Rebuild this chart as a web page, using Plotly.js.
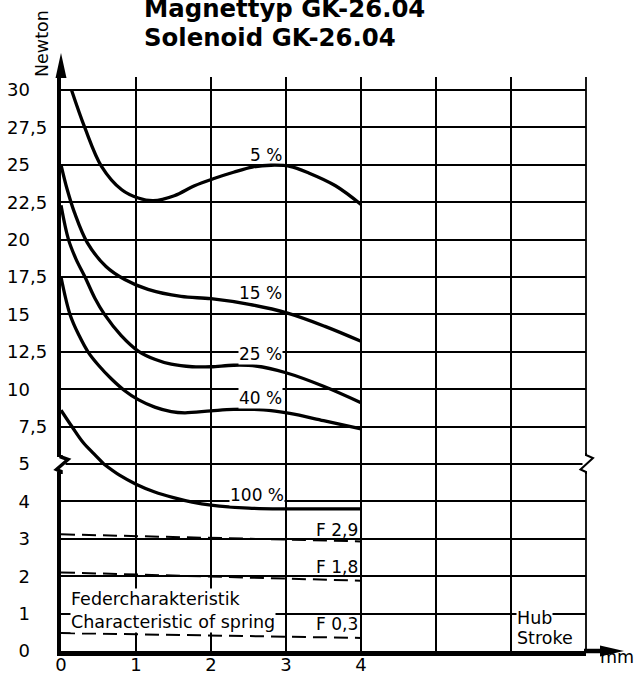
<!DOCTYPE html>
<html><head><meta charset="utf-8">
<script src="https://cdn.plot.ly/plotly-3.0.1.min.js"></script>
<style>body{margin:0;background:#fff}#chart{width:635px;height:674px}</style>
</head><body><div id="chart"></div>
<script>
// ---------- data ----------
const titleLine1 = 'Magnettyp GK-26.04';
const titleLine2 = 'Solenoid GK-26.04';
const yUnit = 'Newton';
const xUnit = 'mm';
const strokeLabel1 = 'Hub';
const strokeLabel2 = 'Stroke';
const springLabel = ['Federcharakteristik', 'Characteristic of spring'];

const xTickVals = [0, 1, 2, 3, 4, 5, 6, 7];
const xTickText = ['0', '1', '2', '3', '4', '', '', ''];
const lowerTickVals = [0, 1, 2, 3, 4, 5];
const lowerTickText = ['0', '1', '2', '3', '4', ''];
const upperTickVals = [5, 7.5, 10, 12.5, 15, 17.5, 20, 22.5, 25, 27.5, 30];
const upperTickText = ['5', '7,5', '10', '12,5', '15', '17,5', '20', '22,5', '25', '27,5', '30'];

// duty-cycle curves (upper scale 5..30 N)
const d5x  = [0.14, 0.32, 0.54, 0.81, 1.03, 1.23, 1.51, 1.78, 2.05, 2.3, 2.55, 2.8, 3.05, 3.31, 3.66, 4.0];
const d5y  = [30, 27.45, 24.9, 23.33, 22.78, 22.6, 22.93, 23.6, 24.1, 24.5, 24.85, 24.97, 24.9, 24.44, 23.6, 22.35];
const d15x = [0, 0.08, 0.18, 0.35, 0.6, 0.85, 1.16, 1.6, 2.0, 2.51, 3.01, 3.52, 4.0];
const d15y = [25, 23.4, 21.8, 19.8, 18.2, 17.33, 16.67, 16.2, 16.05, 15.67, 15.1, 14.2, 13.2];
const d25x = [0, 0.1, 0.2, 0.32, 0.45, 0.58, 0.8, 1.03, 1.25, 1.47, 1.75, 2.0, 2.3, 2.6, 3.0, 3.5, 4.0];
const d25y = [22.3, 20.0, 18.7, 17.5, 16.1, 15.0, 13.6, 12.55, 12.0, 11.67, 11.5, 11.5, 11.6, 11.55, 11.1, 10.2, 9.1];
const d40x = [0, 0.12, 0.24, 0.36, 0.5, 0.67, 0.85, 1.03, 1.25, 1.47, 1.65, 2.0, 2.3, 2.7, 3.05, 3.5, 4.0];
const d40y = [17.5, 15.0, 13.6, 12.5, 11.6, 10.7, 9.9, 9.3, 8.8, 8.5, 8.42, 8.55, 8.65, 8.62, 8.38, 7.9, 7.35];
const d100UpX = [0, 0.15, 0.29, 0.44, 0.57];
const d100UpY = [8.6, 7.47, 6.47, 5.67, 5.0];
// lower scale 0..5 N
const d100LoX = [0.57, 0.78, 1.0, 1.25, 1.5, 1.75, 2.0, 2.5, 3.0, 3.5, 4.0];
const d100LoY = [5.0, 4.7, 4.46, 4.25, 4.1, 3.98, 3.9, 3.82, 3.8, 3.8, 3.8];
// spring characteristics
const springX = [0, 4];
const f29Y = [3.12, 2.93];
const f18Y = [2.1, 1.88];
const f03Y = [0.48, 0.35];

const curveLabels = ['5 %', '15 %', '25 %', '40 %', '100 %'];
const springLabels = ['F 2,9', 'F 1,8', 'F 0,3'];

// ---------- layout helpers ----------
const W = 635, H = 674;
const L = 61, R = 586, T = 77, B = 651;
const split = 187 / (B - T);
const toPX = p => (p - L) / (R - L);
const toPY = p => (B - p) / (B - T);
const FONT = 'DejaVu Sans, sans-serif';
// decimal-aligned tick labels, nudged left from the axis
const pad = t => (t.indexOf(',') >= 0 ? t : t + '\u2008\u2007') + '\u2008';

const curve = { color: '#000', width: 3.3, shape: 'spline', smoothing: 1 };
const dashed = { color: '#000', width: 2, dash: '14px,7px' };

const traces = [
  { x: d5x, y: d5y, yaxis: 'y2', mode: 'lines', line: curve, name: curveLabels[0] },
  { x: d15x, y: d15y, yaxis: 'y2', mode: 'lines', line: curve, name: curveLabels[1] },
  { x: d25x, y: d25y, yaxis: 'y2', mode: 'lines', line: curve, name: curveLabels[2] },
  { x: d40x, y: d40y, yaxis: 'y2', mode: 'lines', line: curve, name: curveLabels[3] },
  { x: d100UpX, y: d100UpY, yaxis: 'y2', mode: 'lines', line: curve, name: curveLabels[4] },
  { x: d100LoX, y: d100LoY, yaxis: 'y', mode: 'lines', line: curve, name: curveLabels[4] },
  { x: springX, y: f29Y, yaxis: 'y', mode: 'lines', line: dashed, name: springLabels[0] },
  { x: springX, y: f18Y, yaxis: 'y', mode: 'lines', line: dashed, name: springLabels[1] },
  { x: springX, y: f03Y, yaxis: 'y', mode: 'lines', line: dashed, name: springLabels[2] }
];

const axisCommon = {
  showline: true, linecolor: '#000', linewidth: 4.5,
  showgrid: true, gridcolor: '#000', zeroline: false, ticks: '',
  tickfont: { family: FONT, size: 18, color: '#000' }, fixedrange: true
};

const ann = (text, x, y, opts) => Object.assign({
  text, xref: 'paper', yref: 'paper', x: toPX(x), y: toPY(y), showarrow: false,
  xanchor: 'center', yanchor: 'middle', font: { family: FONT, size: 17, color: '#000' }, borderpad: 0
}, opts || {});

const annotations = [
  ann('<b>' + titleLine1 + '</b>', 143, 8.5, { xanchor: 'left', font: { family: FONT, size: 24.4, color: '#000' } }),
  ann('<b>' + titleLine2 + '</b>', 143, 37.5, { xanchor: 'left', font: { family: FONT, size: 24.4, color: '#000' } }),
  ann(yUnit, 42.5, 43.5, { textangle: -90, font: { family: FONT, size: 17.5, color: '#000' } }),
  ann(xUnit, 617, 657, { font: { family: FONT, size: 17.5, color: '#000' } }),
  ann(curveLabels[0], 283, 155, { xanchor: 'right' }),
  ann(curveLabels[1], 283, 293, { xanchor: 'right' }),
  ann(curveLabels[2], 283, 354, { xanchor: 'right', bgcolor: '#fff' }),
  ann(curveLabels[3], 283, 398, { xanchor: 'right', bgcolor: '#fff' }),
  ann(curveLabels[4], 285, 495, { xanchor: 'right', bgcolor: '#fff' }),
  ann(springLabels[0], 315, 530, { xanchor: 'left' }),
  ann(springLabels[1], 315, 566.7, { xanchor: 'left' }),
  ann(springLabels[2], 315, 624, { xanchor: 'left' }),
  ann(springLabel.join('<br>'), 70, 610, { xanchor: 'left', align: 'left', bgcolor: '#fff', font: { family: FONT, size: 17.5, color: '#000' } }),
  ann(strokeLabel1, 516, 617.5, { xanchor: 'left', bgcolor: '#fff', font: { family: FONT, size: 17.5, color: '#000' } }),
  ann(strokeLabel2, 516, 637.5, { xanchor: 'left', bgcolor: '#fff', font: { family: FONT, size: 17.5, color: '#000' } })
];

const path = pts => 'M' + pts.map(p => toPX(p[0]) + ',' + toPY(p[1])).join(' L') ;
const shapes = [
  // grid lines on the plot edges (break line and last stroke line)
  { type: 'line', xref: 'paper', yref: 'paper', layer: 'above', x0: 0, x1: 1, y0: split, y1: split, line: { color: '#000', width: 2 } },
  { type: 'line', xref: 'paper', yref: 'paper', layer: 'above', x0: 1, x1: 1, y0: 0, y1: 1, line: { color: '#000', width: 1.8 } },
  // y-axis arrow head
  { type: 'path', xref: 'paper', yref: 'paper', layer: 'above', path: path([[55.5, 78], [61, 53], [66.5, 78]]) + ' Z', fillcolor: '#000', line: { width: 0 } },
  // x-axis extension and arrow head
  { type: 'line', xref: 'paper', yref: 'paper', layer: 'above', x0: toPX(584), x1: toPX(606), y0: toPY(651), y1: toPY(651), line: { color: '#000', width: 4.5 } },
  { type: 'path', xref: 'paper', yref: 'paper', layer: 'above', path: path([[600, 645.5], [624, 651], [600, 656.5]]) + ' Z', fillcolor: '#000', line: { width: 0 } },
  // axis breaks
  { type: 'rect', xref: 'paper', yref: 'paper', layer: 'above', x0: toPX(57), x1: toPX(65.5), y0: toPY(471.5), y1: toPY(457), fillcolor: '#fff', line: { width: 0 } },
  { type: 'path', xref: 'paper', yref: 'paper', layer: 'above', path: path([[61, 455], [61, 457], [68, 459.5], [56.5, 469.5], [61, 471.5], [61, 474]]), line: { color: '#000', width: 3.5 } },
  { type: 'rect', xref: 'paper', yref: 'paper', layer: 'above', x0: toPX(582.5), x1: toPX(589.5), y0: toPY(471.5), y1: toPY(455.5), fillcolor: '#fff', line: { width: 0 } },
  { type: 'path', xref: 'paper', yref: 'paper', layer: 'above', path: path([[586, 453], [586, 455], [593, 458], [580.5, 469.5], [586, 472], [586, 474]]), line: { color: '#000', width: 2 } }
];

const layout = {
  width: W, height: H,
  margin: { l: L, r: W - R, t: T, b: H - B, pad: 0 },
  paper_bgcolor: '#fff', plot_bgcolor: '#fff',
  showlegend: false,
  xaxis: Object.assign({}, axisCommon, {
    range: [0, 7], tickvals: xTickVals, ticktext: xTickText, gridwidth: 1.5, anchor: 'y', ticklabelstandoff: -6
  }),
  yaxis: Object.assign({}, axisCommon, {
    domain: [0, split], range: [0, 5], tickvals: lowerTickVals, ticktext: lowerTickText.map(pad), gridwidth: 2, anchor: 'x'
  }),
  yaxis2: Object.assign({}, axisCommon, {
    domain: [split, 1], range: [5, 30 + (90 - T) / 14.96], tickvals: upperTickVals, ticktext: upperTickText.map(pad), gridwidth: 2, anchor: 'x'
  }),
  annotations, shapes
};

Plotly.newPlot('chart', traces, layout, { displayModeBar: false, staticPlot: true });
</script>
</body></html>
